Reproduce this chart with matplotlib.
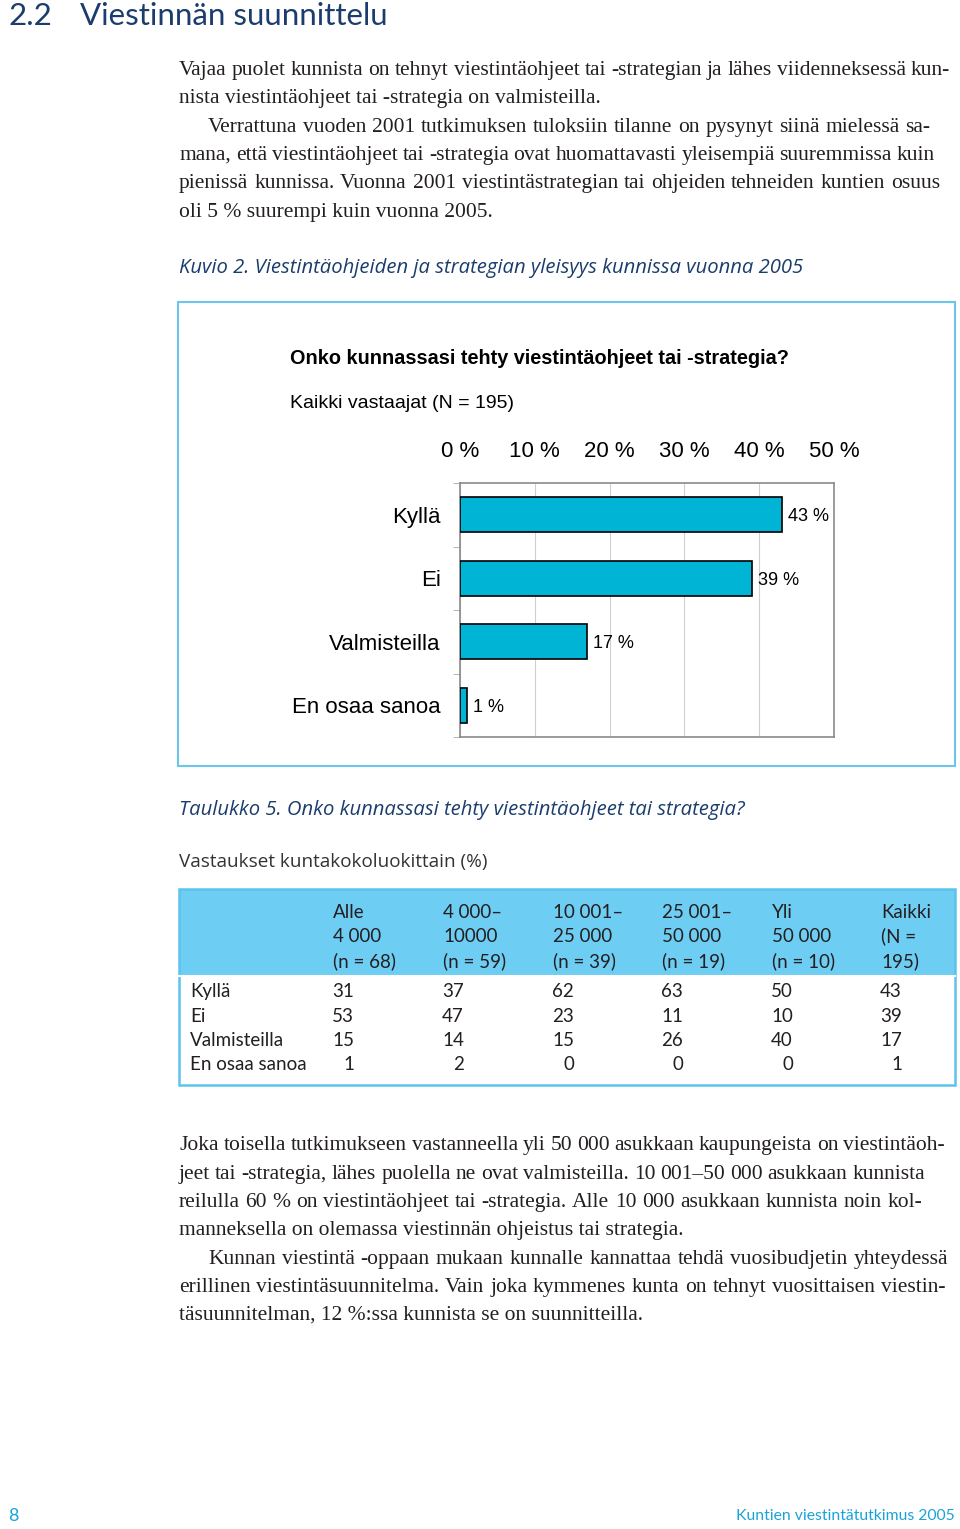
import matplotlib
matplotlib.use('Agg')
import matplotlib.pyplot as plt
from matplotlib.patches import Rectangle

W, H = 960, 1529

# chart data
categories = ['Kyllä', 'Ei', 'Valmisteilla', 'En osaa sanoa']
values = [43, 39, 17, 1]
xticks = [0, 10, 20, 30, 40, 50]

# table data
col_heads = [['Alle', '4 000', '(n = 68)'],
             ['4 000–', '10000', '(n = 59)'],
             ['10 001–', '25 000', '(n = 39)'],
             ['25 001–', '50 000', '(n = 19)'],
             ['Yli', '50 000', '(n = 10)'],
             ['Kaikki', '(N =', '195)']]
row_labels = ['Kyllä', 'Ei', 'Valmisteilla', 'En osaa sanoa']
table_vals = [[31, 37, 62, 63, 50, 43],
              [53, 47, 23, 11, 10, 39],
              [15, 14, 15, 26, 40, 17],
              [1, 2, 0, 0, 0, 1]]

para1 = [
    ('Vajaa puolet kunnista on tehnyt viestintäohjeet tai -strategian ja lähes viidenneksessä kun-', 179, 950, 69),
    ('nista viestintäohjeet tai -strategia on valmisteilla.', 179, None, 97),
    ('Verrattuna vuoden 2001 tutkimuksen tuloksiin tilanne on pysynyt siinä mielessä sa-', 208, 930, 126),
    ('mana, että viestintäohjeet tai -strategia ovat huomattavasti yleisempiä suuremmissa kuin', 179, 935, 154),
    ('pienissä kunnissa. Vuonna 2001 viestintästrategian tai ohjeiden tehneiden kuntien osuus', 179, 940, 182),
    ('oli 5 % suurempi kuin vuonna 2005.', 179, None, 211),
]
para2 = [
    ('Joka toisella tutkimukseen vastanneella yli 50 000 asukkaan kaupungeista on viestintäoh-', 179, 945, 1144),
    ('jeet tai -strategia, lähes puolella ne ovat valmisteilla. 10 001–50 000 asukkaan kunnista', 179, 925, 1173),
    ('reilulla 60 % on viestintäohjeet tai -strategia. Alle 10 000 asukkaan kunnista noin kol-', 179, 922, 1201),
    ('manneksella on olemassa viestinnän ohjeistus tai strategia.', 179, None, 1229),
    ('Kunnan viestintä -oppaan mukaan kunnalle kannattaa tehdä vuosibudjetin yhteydessä', 208, 948, 1258),
    ('erillinen viestintäsuunnitelma. Vain joka kymmenes kunta on tehnyt vuosittaisen viestin-', 179, 945, 1286),
    ('täsuunnitelman, 12 %:ssa kunnista se on suunnitteilla.', 179, None, 1314),
]

navy = '#1b3d6d'
cyan = '#1aa3d9'
serif = ['Liberation Serif', 'DejaVu Serif']
sans = ['Lato', 'DejaVu Sans']
wide = ['Open Sans', 'DejaVu Sans']
arial = ['Liberation Sans', 'DejaVu Sans']


def fx(x):
    return x / W


def fy(y):
    return 1 - y / H


fig = plt.figure(figsize=(W / 100, H / 100), dpi=100)
fig.patch.set_facecolor('white')
renderer = fig.canvas.get_renderer()


def text_line(s, x0, x1, y, **kw):
    # y is the middle of the x-height, words sit on a common baseline
    yb = fy(y + 6)
    if x1 is None:
        fig.text(fx(x0), yb, s, va='baseline', ha='left', **kw)
        return
    words = s.split(' ')
    widths = []
    for w in words:
        t = fig.text(0, 0, w, **kw)
        widths.append(t.get_window_extent(renderer).width)
        t.remove()
    gap = (x1 - x0 - sum(widths)) / (len(words) - 1)
    x = x0
    for w, wd in zip(words, widths):
        fig.text(fx(x), yb, w, va='baseline', ha='left', **kw)
        x += wd + gap


body = dict(fontsize=15.5, family=serif, color='#231f20')

# heading
fig.text(fx(8), fy(16), '2.2', fontsize=22.5, family=sans, color=navy, va='center')
fig.text(fx(80), fy(16), 'Viestinnän suunnittelu', fontsize=22.5, family=sans, color=navy, va='center')

for s, x0, x1, y in para1:
    text_line(s, x0, x1, y, **body)

fig.text(fx(179), fy(268), 'Kuvio 2. Viestintäohjeiden ja strategian yleisyys kunnissa vuonna 2005',
         fontsize=14.6, family=wide, style='italic', color=navy, va='center')

# chart box
fig.patches.append(Rectangle((fx(178), fy(766)), (955 - 178) / W, (766 - 302) / H,
                             transform=fig.transFigure, fill=False, edgecolor='#6cc6ea', lw=1.5))
fig.text(fx(290), fy(358), 'Onko kunnassasi tehty viestintäohjeet tai -strategia?',
         fontsize=14.3, family=arial, weight='bold', color='black', va='center')
fig.text(fx(290), fy(403), 'Kaikki vastaajat (N = 195)',
         fontsize=14, family=arial, color='black', va='center')

ax = fig.add_axes([fx(460), fy(737), (834 - 460) / W, (737 - 483) / H])
ypos = list(range(len(categories)))
ax.barh(ypos, values, height=0.55, color='#00b4d5', edgecolor='black', lw=1.2, zorder=3)
for i, v in enumerate(values):
    ax.text(v + 0.8, i + 0.03, f'{v} %', va='center', ha='left', fontsize=13, family=arial)
ax.set_xlim(0, 50)
ax.set_ylim(3.5, -0.5)
ax.xaxis.tick_top()
ax.set_xticks(xticks)
ax.set_xticklabels([f'{t} %' for t in xticks], fontsize=16, family=arial)
ax.tick_params(axis='x', length=0, pad=15)
ax.set_yticks(ypos)
ax.set_yticklabels(categories, fontsize=16, family=arial)
ax.tick_params(axis='y', length=0, pad=14)
ax.set_yticks([-0.5, 0.5, 1.5, 2.5, 3.5], minor=True)
ax.tick_params(axis='y', which='minor', length=5, color='#aaaaaa')
ax.grid(axis='x', color='#d0d0d0', lw=0.8, zorder=0)
for sp in ax.spines.values():
    sp.set_color('#8a8a8a')
    sp.set_linewidth(1.2)

# table
fig.text(fx(179), fy(810), 'Taulukko 5. Onko kunnassasi tehty viestintäohjeet tai strategia?',
         fontsize=14.6, family=wide, style='italic', color=navy, va='center')
fig.text(fx(179), fy(862), 'Vastaukset kuntakokoluokittain (%)',
         fontsize=13.6, family=wide, color='#333333', va='center')

fig.patches.append(Rectangle((fx(179), fy(975)), (955 - 179) / W, (975 - 889) / H,
                             transform=fig.transFigure, facecolor='#6dcdf3', edgecolor='none'))
fig.patches.append(Rectangle((fx(179), fy(1085)), (955 - 179) / W, (1085 - 889) / H,
                             transform=fig.transFigure, fill=False, edgecolor='#5cc3ec', lw=1.8))
fig.lines.append(plt.Line2D([fx(179), fx(955)], [fy(976), fy(976)], transform=fig.transFigure,
                            color='white', lw=1.5))

col_x = [333, 443, 553, 662, 772, 881]
head_y = [911, 935, 960]
row_y = [990, 1015, 1039, 1063]
cell = dict(fontsize=13.5, family=sans, color='#231f20', va='baseline')
for cx, lines in zip(col_x, col_heads):
    for ly, s in zip(head_y, lines):
        fig.text(fx(cx), fy(ly + 7), s, ha='left', **cell)
for ry, lab, vals in zip(row_y, row_labels, table_vals):
    fig.text(fx(190), fy(ry + 7), lab, ha='left', **cell)
    for cx, v in zip(col_x, vals):
        fig.text(fx(cx + 21), fy(ry + 7), str(v), ha='right', **cell)

for s, x0, x1, y in para2:
    text_line(s, x0, x1, y, **body)

# footer
fig.text(fx(8), fy(1516), '8', fontsize=13, family=sans, color=cyan, va='center')
fig.text(fx(955), fy(1516), 'Kuntien viestintätutkimus 2005', fontsize=11.3, family=sans,
         color=cyan, va='center', ha='right')

fig.savefig('out.png', dpi=100)
